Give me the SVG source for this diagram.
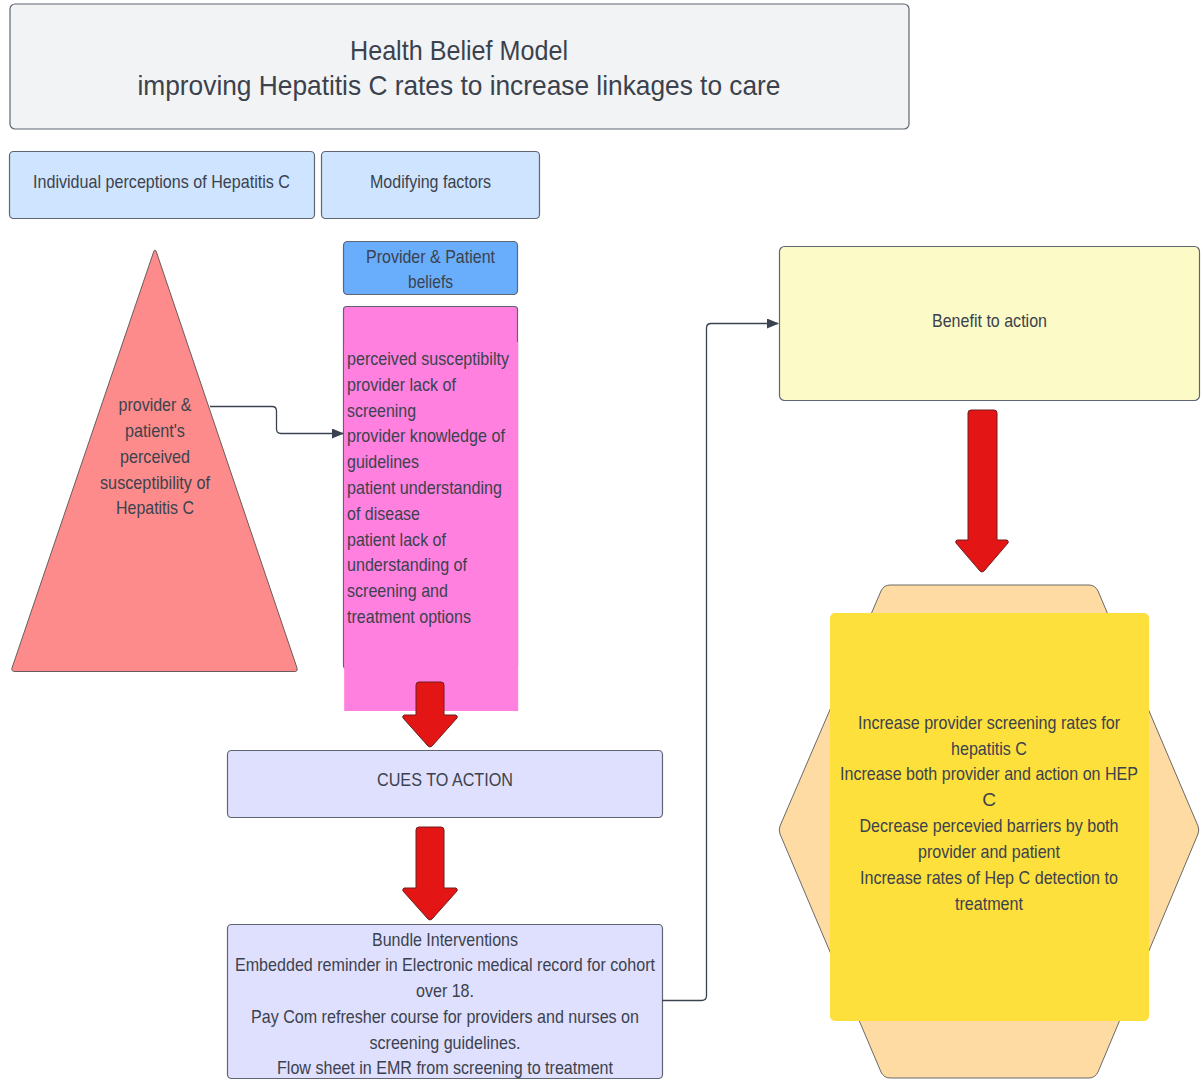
<svg xmlns="http://www.w3.org/2000/svg" width="1203" height="1080" viewBox="0 0 1203 1080">
<style>
text{font-family:"Liberation Sans",Arial,sans-serif;fill:#3b424d;font-size:19px}
.c{text-anchor:middle}
.t{font-size:28px}
.box{stroke:#5f6672;stroke-width:1.2}
.red{fill:#e41515;stroke:#6e1e1e;stroke-width:1;stroke-linejoin:round}
.conn{fill:none;stroke:#3c4350;stroke-width:1.3}
</style>
<defs>
<marker id="ah" markerUnits="userSpaceOnUse" markerWidth="12" markerHeight="10" refX="11" refY="5" orient="auto">
<path d="M0,0 L12,5 L0,10 Z" fill="#3c4350"/>
</marker>
</defs>
<rect width="1203" height="1080" fill="#ffffff"/>

<g id="title">
<rect class="box" x="10" y="4" width="899" height="125" rx="5" fill="#f2f3f5"/>
<text class="c t" x="459" y="60" textLength="218" lengthAdjust="spacingAndGlyphs">Health Belief Model</text>
<text class="c t" x="459" y="95" textLength="643" lengthAdjust="spacingAndGlyphs">improving Hepatitis C rates to increase linkages to care</text>
</g>

<g id="individual">
<rect class="box" x="9.5" y="151.5" width="305" height="67" rx="4" fill="#cfe4ff"/>
<text class="c" x="161.5" y="187.5" textLength="257" lengthAdjust="spacingAndGlyphs">Individual perceptions of Hepatitis C</text>
</g>

<g id="modifying">
<rect class="box" x="321.5" y="151.5" width="218" height="67" rx="4" fill="#cfe4ff"/>
<text class="c" x="430.5" y="187.5" textLength="121" lengthAdjust="spacingAndGlyphs">Modifying factors</text>
</g>

<g id="beliefs-header">
<rect class="box" x="343.5" y="241.5" width="174" height="53" rx="4" fill="#69aefc"/>
<text class="c" x="430.5" y="262.5" textLength="129" lengthAdjust="spacingAndGlyphs">Provider &amp; Patient</text>
<text class="c" x="430.5" y="287.5" textLength="45" lengthAdjust="spacingAndGlyphs">beliefs</text>
</g>

<g id="beliefs">
<rect class="box" x="343.5" y="306.5" width="174" height="362" rx="3" fill="#ff80df"/>
<rect x="344.2" y="342" width="174" height="369" fill="#ff80df"/>
<text x="347" y="365" textLength="162" lengthAdjust="spacingAndGlyphs">perceived susceptibilty</text>
<text x="347" y="390.8" textLength="109" lengthAdjust="spacingAndGlyphs">provider lack of</text>
<text x="347" y="416.6" textLength="69" lengthAdjust="spacingAndGlyphs">screening</text>
<text x="347" y="442.4" textLength="158" lengthAdjust="spacingAndGlyphs">provider knowledge of</text>
<text x="347" y="468.2" textLength="72" lengthAdjust="spacingAndGlyphs">guidelines</text>
<text x="347" y="494" textLength="155" lengthAdjust="spacingAndGlyphs">patient understanding</text>
<text x="347" y="519.8" textLength="73" lengthAdjust="spacingAndGlyphs">of disease</text>
<text x="347" y="545.6" textLength="99" lengthAdjust="spacingAndGlyphs">patient lack of</text>
<text x="347" y="571.4" textLength="120" lengthAdjust="spacingAndGlyphs">understanding of</text>
<text x="347" y="597.2" textLength="101" lengthAdjust="spacingAndGlyphs">screening and</text>
<text x="347" y="623" textLength="124" lengthAdjust="spacingAndGlyphs">treatment options</text>
</g>

<g id="perception">
<path d="M153.6,252 Q155,248 156.4,252 L297,668 Q298,671.5 295,671.5 L15,671.5 Q11,671.5 12,668 Z" fill="#fd8b8b" stroke="#6a5c5c" stroke-width="1"/>
<text class="c" x="155" y="411" textLength="73" lengthAdjust="spacingAndGlyphs">provider &amp;</text>
<text class="c" x="155" y="437" textLength="60" lengthAdjust="spacingAndGlyphs">patient's</text>
<text class="c" x="155" y="463" textLength="70" lengthAdjust="spacingAndGlyphs">perceived</text>
<text class="c" x="155" y="489" textLength="110" lengthAdjust="spacingAndGlyphs">susceptibility of</text>
<text class="c" x="155" y="514" textLength="78" lengthAdjust="spacingAndGlyphs">Hepatitis C</text>
</g>

<g id="cues">
<rect class="box" x="227.5" y="750.5" width="435" height="67" rx="4" fill="#dfdffe"/>
<text class="c" x="445" y="785.5" textLength="136" lengthAdjust="spacingAndGlyphs">CUES TO ACTION</text>
</g>

<g id="bundle">
<rect class="box" x="227.5" y="924.5" width="435" height="154" rx="4" fill="#dfdffe"/>
<text class="c" x="445" y="945.5" textLength="146" lengthAdjust="spacingAndGlyphs">Bundle Interventions</text>
<text class="c" x="445" y="971" textLength="420" lengthAdjust="spacingAndGlyphs">Embedded reminder in Electronic medical record for cohort</text>
<text class="c" x="445" y="997" textLength="58" lengthAdjust="spacingAndGlyphs">over 18.</text>
<text class="c" x="445" y="1022.5" textLength="388" lengthAdjust="spacingAndGlyphs">Pay Com refresher course for providers and nurses on</text>
<text class="c" x="445" y="1048.5" textLength="151" lengthAdjust="spacingAndGlyphs">screening guidelines.</text>
<text class="c" x="445" y="1074" textLength="336" lengthAdjust="spacingAndGlyphs">Flow sheet in EMR from screening to treatment</text>
</g>

<g id="benefit">
<rect class="box" x="779.5" y="246.5" width="420" height="154" rx="5" fill="#fcfbc8"/>
<text class="c" x="989.5" y="326.5" textLength="115" lengthAdjust="spacingAndGlyphs">Benefit to action</text>
</g>

<g id="outcomes">
<path d="M890,585 L1089,585 Q1095,585 1098,591 L1198,826 Q1199.5,830 1198,834 L1098,1072 Q1095,1078 1089,1078 L890,1078 Q884,1078 881,1072 L780,834 Q778.5,830 780,826 L881,591 Q884,585 890,585 Z" fill="#fedba2" stroke="#6a6a6a" stroke-width="1"/>
<rect x="830" y="613" width="319" height="408" rx="5" fill="#fde03c"/>
<text class="c" x="989" y="728.5" textLength="262" lengthAdjust="spacingAndGlyphs">Increase provider screening rates for</text>
<text class="c" x="989" y="754.5" textLength="76" lengthAdjust="spacingAndGlyphs">hepatitis C</text>
<text class="c" x="989" y="780" textLength="298" lengthAdjust="spacingAndGlyphs">Increase both provider and action on HEP</text>
<text class="c" x="989" y="806">C</text>
<text class="c" x="989" y="831.5" textLength="259" lengthAdjust="spacingAndGlyphs">Decrease percevied barriers by both</text>
<text class="c" x="989" y="857.5" textLength="142" lengthAdjust="spacingAndGlyphs">provider and patient</text>
<text class="c" x="989" y="883.5" textLength="258" lengthAdjust="spacingAndGlyphs">Increase rates of Hep C detection to</text>
<text class="c" x="989" y="909.5" textLength="68" lengthAdjust="spacingAndGlyphs">treatment</text>
</g>

<g id="connectors">
<path class="conn" d="M210,406.5 L272,406.5 Q276.5,406.5 276.5,411 L276.5,429 Q276.5,433.5 281,433.5 L343,433.5" marker-end="url(#ah)"/>
<path class="conn" d="M662,1000.5 L701.5,1000.5 Q706.5,1000.5 706.5,995.5 L706.5,328 Q706.5,323.5 711,323.5 L778,323.5" marker-end="url(#ah)"/>
<path class="red" d="M416,685 Q416,682 419,682 L441,682 Q444,682 444,685 L444,715 L456,715 Q458,716 457,718 L432,746 Q430,748 428,746 L403,718 Q402,716 404,715 L416,715 Z"/>
<path class="red" d="M416,830 Q416,827 419,827 L441,827 Q444,827 444,830 L444,888 L456,888 Q458,889 457,891 L432,919 Q430,921 428,919 L403,891 Q402,889 404,888 L416,888 Z"/>
<path class="red" d="M968,413 Q968,410 971,410 L994,410 Q997,410 997,413 L997,540 L1007,540 Q1009,541 1008,543 L984,571 Q982,573 980,571 L956,543 Q955,541 957,540 L968,540 Z"/>
</g>
</svg>
